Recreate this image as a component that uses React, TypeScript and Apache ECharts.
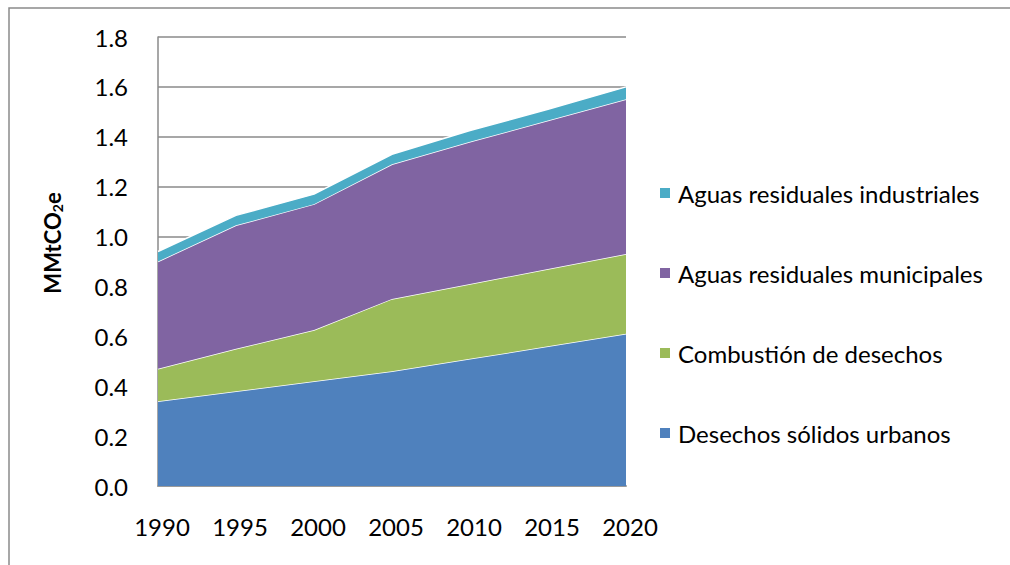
import React, { useEffect, useRef } from "react";
import * as echarts from "echarts";

const years = ["1990", "1995", "2000", "2005", "2010", "2015", "2020"];
const desechosSolidos = [0.34, 0.38, 0.42, 0.46, 0.51, 0.56, 0.61];
const combustion = [0.13, 0.17, 0.205, 0.29, 0.3, 0.31, 0.32];
const aguasMunicipales = [0.43, 0.495, 0.505, 0.54, 0.57, 0.595, 0.62];
const aguasIndustriales = [0.04, 0.04, 0.04, 0.04, 0.045, 0.045, 0.05];

const seriesNames = [
  "Desechos sólidos urbanos",
  "Combustión de desechos",
  "Aguas residuales municipales",
  "Aguas residuales industriales",
];
const seriesColors = ["#4F81BD", "#9BBB59", "#8064A2", "#4BACC6"];
const seriesData = [desechosSolidos, combustion, aguasMunicipales, aguasIndustriales];

const FONT = "Lato, 'Liberation Sans', sans-serif";

export default function App() {
  const ref = useRef<HTMLDivElement>(null);
  useEffect(() => {
    document.body.style.margin = "0";
    const chart = echarts.init(ref.current!, undefined, { renderer: "svg" });
    chart.setOption({
      animation: false,
      backgroundColor: "#ffffff",
      textStyle: { fontFamily: FONT },
      graphic: [
        {
          type: "rect",
          shape: { x: 9, y: 8, width: 1100, height: 700 },
          style: { fill: "none", stroke: "#8a8a8a", lineWidth: 1.5 },
          silent: true,
          z: -10,
        },
        {
          type: "text",
          x: 52,
          y: 243,
          rotation: Math.PI / 2,
          silent: true,
          style: {
            text: "{a|MMtCO}{b|2}{a|e}",
            align: "center",
            verticalAlign: "middle",
            rich: {
              a: { fontSize: 22, fontWeight: "bold", fill: "#000", fontFamily: FONT, lineHeight: 28 },
              b: { fontSize: 14, fontWeight: "bold", fill: "#000", fontFamily: FONT, lineHeight: 28, padding: [10, 0, 0, 0] },
            },
          },
        },
      ],
      grid: { left: 158, top: 37, right: 384, bottom: 79, containLabel: false },
      legend: {
        orient: "vertical",
        left: 655,
        top: 175,
        icon: "rect",
        itemWidth: 10,
        itemHeight: 10,
        itemGap: 54,
        data: [...seriesNames].reverse(),
        textStyle: { fontSize: 24, color: "#000", fontFamily: FONT, lineHeight: 26, padding: [0, 0, 0, 3] },
      },
      xAxis: {
        type: "category",
        data: years,
        boundaryGap: false,
        axisLine: { lineStyle: { color: "#9a9a9a", width: 2 } },
        axisTick: { show: false },
        axisLabel: { fontSize: 24, color: "#000", margin: 28, fontFamily: FONT, padding: [0, 0, 0, 8] },
        splitLine: { show: false },
      },
      yAxis: {
        type: "value",
        min: 0,
        max: 1.8,
        interval: 0.2,
        axisLine: { show: true, lineStyle: { color: "#8a8a8a", width: 1.5 } },
        axisTick: { show: false },
        axisLabel: {
          fontSize: 24,
          color: "#000",
          margin: 30,
          fontFamily: FONT,
          formatter: (v: number) => v.toFixed(1),
        },
        splitLine: { show: true, lineStyle: { color: "#8a8a8a", width: 1.5 } },
      },
      series: seriesNames.map((name, i) => ({
        name,
        type: "line",
        stack: "total",
        data: seriesData[i],
        symbol: "none",
        itemStyle: { color: seriesColors[i] },
        lineStyle: { color: "#ffffff", width: 1.5 },
        areaStyle: { color: seriesColors[i], opacity: 1 },
        z: 2 + i,
      })),
    });
    return () => chart.dispose();
  }, []);
  return <div ref={ref} style={{ width: 1010, height: 565 }} />;
}
